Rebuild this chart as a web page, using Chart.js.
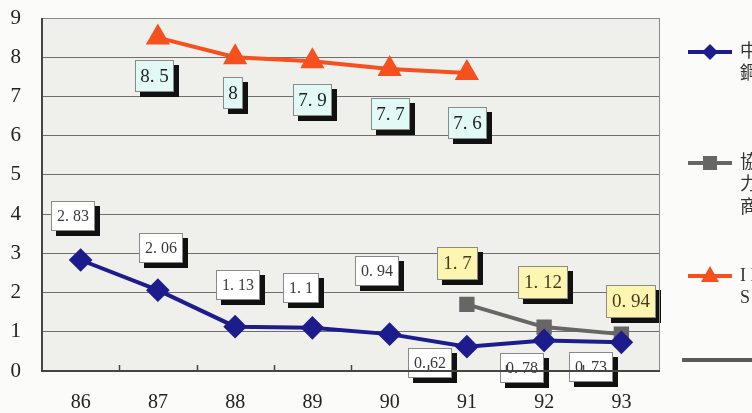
<!DOCTYPE html>
<html>
<head>
<meta charset="utf-8">
<script src="https://cdn.jsdelivr.net/npm/chart.js@4"></script>
<style>
  html, body { margin: 0; padding: 0; background: #fbfbfa; }
  #wrap { width: 752px; height: 413px; }
</style>
</head>
<body>
<div id="wrap"><canvas id="c" width="752" height="413"></canvas></div>
<script>
const categories = ['86', '87', '88', '89', '90', '91', '92', '93'];
const chinaSteel = [2.83, 2.06, 1.13, 1.1, 0.94, 0.62, 0.78, 0.73];
const suppliers = [null, null, null, null, null, 1.7, 1.12, 0.94];
const iisi = [null, 8.5, 8, 7.9, 7.7, 7.6, null, null];
const yTicks = [0, 1, 2, 3, 4, 5, 6, 7, 8, 9];
const legendLines = [
  ['中鋼公司', '鋼鐵'],
  ['協力', '力廠', '商'],
  ['I I S I', 'S I']
];

// label box offsets relative to the point (styling)
const labelStyle = [
  { fill: '#ffffff', text: '#3a3a3a', font: 16, h: 30, pad: 12,
    off: [[-8,-44],[3,-42],[3,-42],[-11,-40],[-13,-63],[-37,16],[-22,28],[-30,25]] },
  { fill: '#fcf6b0', text: '#4a3a1c', font: 19, h: 33, pad: 12,
    off: [null,null,null,null,null,[-9,-41],[-1,-45],[10,-33]] },
  { fill: '#e2faf6', text: '#222222', font: 19, h: 32, pad: 10,
    off: [null,[-3,38],[-2,36],[0,39],[1,45],[1,50],null,null] }
];

const fmt = v => String(v).replace('.', '. ');

const bgPlugin = {
  id: 'bg',
  beforeDraw(chart) {
    const { ctx, chartArea: a } = chart;
    ctx.save();
    ctx.fillStyle = '#efefec';
    ctx.fillRect(a.left, a.top, a.right - a.left, a.bottom - a.top);
    ctx.restore();
  },
  afterDraw(chart) {
    const { ctx, chartArea: a } = chart;
    const xs = chart.scales.x;
    ctx.save();
    ctx.strokeStyle = '#8a8a88';
    ctx.lineWidth = 1;
    ctx.beginPath();
    ctx.moveTo(a.left, a.top + 0.5); ctx.lineTo(a.right, a.top + 0.5);
    ctx.moveTo(a.right - 0.5, a.top); ctx.lineTo(a.right - 0.5, a.bottom);
    ctx.stroke();
    ctx.strokeStyle = '#444';
    ctx.lineWidth = 2;
    ctx.beginPath();
    ctx.moveTo(a.left, a.top); ctx.lineTo(a.left, a.bottom);
    ctx.lineTo(a.right, a.bottom);
    ctx.stroke();
    ctx.lineWidth = 1.5;
    ctx.beginPath();
    for (let i = 1; i < categories.length; i++) {
      const x = Math.round((xs.getPixelForTick(i - 1) + xs.getPixelForTick(i)) / 2) + 0.5;
      ctx.moveTo(x, a.bottom); ctx.lineTo(x, a.bottom - 6);
    }
    ctx.stroke();
    ctx.restore();
  }
};

const labelPlugin = {
  id: 'boxLabels',
  afterDatasetsDraw(chart) {
    const ctx = chart.ctx;
    ctx.save();
    chart.data.datasets.forEach((ds, di) => {
      const st = labelStyle[di];
      const meta = chart.getDatasetMeta(di);
      meta.data.forEach((pt, i) => {
        const v = ds.data[i];
        if (v === null || v === undefined || !st.off[i]) return;
        const txt = fmt(v);
        ctx.font = st.font + 'px "Liberation Serif", "DejaVu Serif", serif';
        const w = Math.round(ctx.measureText(txt).width + st.pad);
        const h = st.h;
        const cx = pt.x + st.off[i][0], cy = pt.y + st.off[i][1];
        const x0 = Math.round(cx - w / 2), y0 = Math.round(cy - h / 2);
        ctx.fillStyle = '#111';
        ctx.fillRect(x0 + 5, y0 + 5, w, h);
        ctx.fillStyle = st.fill;
        ctx.fillRect(x0, y0, w, h);
        ctx.strokeStyle = '#8a8a8a';
        ctx.lineWidth = 1;
        ctx.strokeRect(x0 + 0.5, y0 + 0.5, w - 1, h - 1);
        ctx.fillStyle = st.text;
        ctx.textAlign = 'center';
        ctx.textBaseline = 'middle';
        ctx.fillText(txt, x0 + w / 2, y0 + h / 2 + 1);
      });
    });
    ctx.restore();
  }
};

const legendPlugin = {
  id: 'sideLegend',
  afterDraw(chart) {
    const ctx = chart.ctx;
    ctx.save();
    const items = [
      { y: 52, color: '#1c1c8c', shape: 'diamond' },
      { y: 163, color: '#666666', shape: 'square' },
      { y: 276, color: '#f5501e', shape: 'triangle' }
    ];
    items.forEach((it, k) => {
      ctx.strokeStyle = it.color;
      ctx.lineWidth = 4;
      ctx.beginPath(); ctx.moveTo(688, it.y); ctx.lineTo(732, it.y); ctx.stroke();
      ctx.fillStyle = it.color;
      ctx.beginPath();
      const cx = 710, cy = it.y;
      if (it.shape === 'diamond') {
        ctx.moveTo(cx, cy - 8); ctx.lineTo(cx + 8, cy); ctx.lineTo(cx, cy + 8); ctx.lineTo(cx - 8, cy);
      } else if (it.shape === 'square') {
        ctx.rect(cx - 7, cy - 7, 14, 14);
      } else {
        ctx.moveTo(cx, cy - 10); ctx.lineTo(cx + 9, cy + 6); ctx.lineTo(cx - 9, cy + 6);
      }
      ctx.closePath(); ctx.fill();
      ctx.fillStyle = '#333';
      ctx.font = '18px "Liberation Serif", "Noto Sans CJK TC", serif';
      ctx.textAlign = 'left';
      ctx.textBaseline = 'middle';
      legendLines[k].forEach((t, j) => ctx.fillText(t, 740, it.y + j * 22.5));
    });
    ctx.strokeStyle = '#5a5a5a';
    ctx.lineWidth = 4;
    ctx.beginPath(); ctx.moveTo(682, 360); ctx.lineTo(752, 360); ctx.stroke();
    ctx.restore();
  }
};

new Chart(document.getElementById('c'), {
  type: 'line',
  data: {
    labels: categories,
    datasets: [
      { label: '中鋼', data: chinaSteel, borderColor: '#1c1c8c', backgroundColor: '#1c1c8c',
        borderWidth: 4, pointStyle: 'rectRot', pointRadius: 9, pointHoverRadius: 9 },
      { label: '協力廠商', data: suppliers, borderColor: '#666666', backgroundColor: '#666666',
        borderWidth: 4, pointStyle: 'rect', pointRadius: 8, pointHoverRadius: 8 },
      { label: 'IISI', data: iisi, borderColor: '#f5501e', backgroundColor: '#f5501e',
        borderWidth: 4, pointStyle: 'triangle', pointRadius: 10, pointHoverRadius: 10 }
    ]
  },
  options: {
    responsive: false,
    animation: false,
    events: [],
    layout: { padding: { top: 18, right: 92, left: 0, bottom: 0 } },
    plugins: { legend: { display: false }, tooltip: { enabled: false } },
    scales: {
      x: {
        offset: true,
        grid: { display: false },
        border: { display: false },
        ticks: { color: '#222', padding: 12, font: { family: '"Liberation Serif", serif', size: 20 } },
        afterFit(s) { s.height = 42; s.paddingLeft = 0; s.paddingRight = 0; }
      },
      y: {
        min: 0, max: 9,
        afterBuildTicks(s) { s.ticks = yTicks.map(v => ({ value: v })); },
        grid: { color: '#6e6e6c', lineWidth: 1, drawTicks: false },
        border: { display: false },
        ticks: { color: '#222', padding: 21, font: { family: '"Liberation Serif", serif', size: 21 } },
        afterFit(s) { s.width = 42; s.paddingTop = 0; s.paddingBottom = 0; }
      }
    }
  },
  plugins: [bgPlugin, labelPlugin, legendPlugin]
});
</script>
</body>
</html>
